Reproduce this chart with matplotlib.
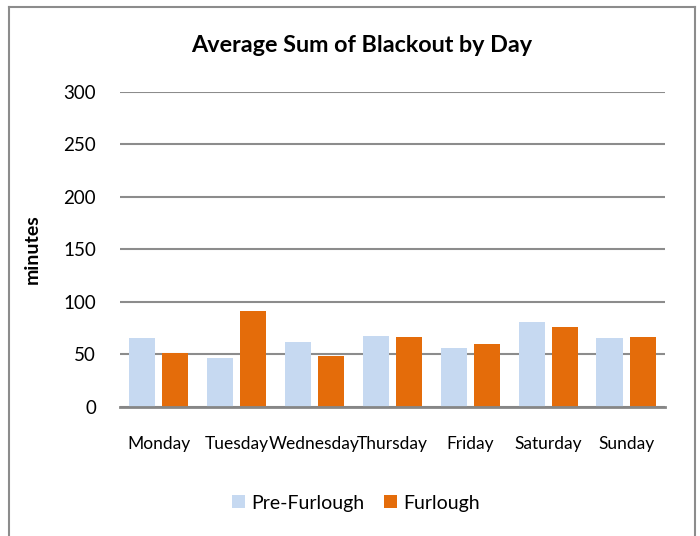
"""Average sum of blackout by day, grouped bars."""

import matplotlib.pyplot as plt
import numpy as np
from matplotlib.lines import Line2D

days = ["Monday", "Tuesday", "Wednesday", "Thursday", "Friday", "Saturday", "Sunday"]
pre_furlough = [66, 47, 62, 68, 56, 81, 66]
furlough = [51, 91, 49, 67, 60, 76, 67]
yticks = [0, 50, 100, 150, 200, 250, 300]

plt.rcParams["font.family"] = ["Lato", "DejaVu Sans"]

fig = plt.figure(figsize=(7, 5.36), dpi=100)
axis = fig.add_axes([0.171, 0.2407, 0.779, 0.5877])

x = np.arange(len(days))
width = 0.335
offset = 0.2125

# Bars
axis.bar(x - offset, pre_furlough, width, color="#C6D9F1", label="Pre-Furlough", zorder=3)
axis.bar(x + offset, furlough, width, color="#E46C0A", label="Furlough", zorder=3)

# Prettifying
axis.set_xlim(-0.5, len(days) - 0.5)
axis.set_ylim(0, 300)
axis.set_yticks(yticks)
axis.set_xticks(x)
axis.set_xticklabels(days, fontsize=12.5)
axis.tick_params(axis="y", length=0, labelsize=13.5, pad=17)
axis.tick_params(axis="x", length=0, pad=21)
axis.yaxis.grid(True, color="#8c8c8c", linewidth=1.5, zorder=0)
for side in ["top", "right", "left"]:
    axis.spines[side].set_visible(False)
axis.spines["bottom"].set_color("#868686")
axis.spines["bottom"].set_linewidth(2)
axis.spines["bottom"].set_zorder(4)

axis.set_ylabel("minutes", fontsize=14, fontweight="bold", labelpad=16)
fig.text(0.517, 0.916, "Average Sum of Blackout by Day", fontsize=16.8,
         fontweight="bold", ha="center", va="center")

fig.legend(loc="center", bbox_to_anchor=(0.509, 0.061), ncol=2, frameon=False,
           fontsize=14, handlelength=0.65, handleheight=0.65, columnspacing=1.0,
           handletextpad=0.35)

# Chart frame
frame = dict(color="#8c8c8c", linewidth=1.5, transform=fig.transFigure)
fig.add_artist(Line2D([9 / 700, 9 / 700], [0, 1 - 7 / 536], **frame))
fig.add_artist(Line2D([695 / 700, 695 / 700], [0, 1 - 7 / 536], **frame))
fig.add_artist(Line2D([9 / 700, 695 / 700], [1 - 7 / 536, 1 - 7 / 536], **frame))

plt.savefig("out.png", dpi=100, transparent=False)
